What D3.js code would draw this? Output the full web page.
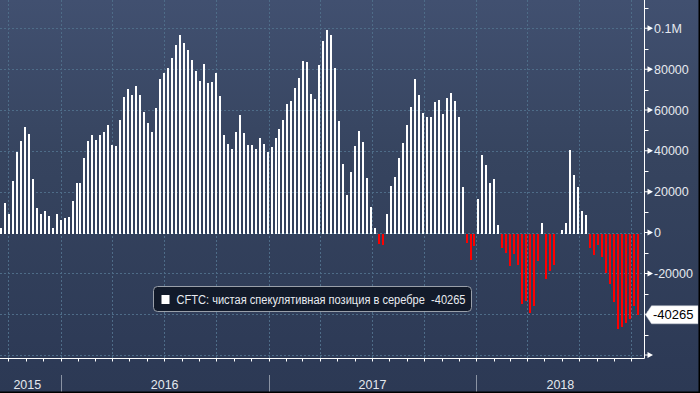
<!DOCTYPE html>
<html>
<head>
<meta charset="utf-8">
<script src="https://cdn.jsdelivr.net/npm/d3@7"></script>
<style>
  html, body { margin: 0; padding: 0; background: #2c3954; }
  svg { display: block; font-family: "Liberation Sans", Arial, sans-serif; }
</style>
</head>
<body>
<div id="chart"></div>
<script>
// CFTC net speculative position in silver, weekly (Friday release dates)
const firstWeek = '2015-09-18';
const positions = [
  2400, 14600, 9300, 25400, 39500, 44900, 51700, 48300, 26300, 12200,
  9300, 10700, 8300, 2000, 9300, 6300, 7300, 7800, 15600, 24400,
  24400, 36600, 44900, 47800, 45400, 47800, 49300, 52700, 42900, 42400,
  55100, 66300, 70300, 67300, 71700, 67300, 59000, 53700, 49300, 61000,
  75100, 78000, 80500, 85400, 91700, 96600, 92700, 89300, 84400, 79000,
  74100, 82400, 73200, 73700, 78000, 66800, 47800, 43400, 41000, 49300,
  57600, 48800, 42900, 42900, 41000, 46300, 43400, 39500, 42000, 46300,
  50700, 55100, 62900, 64400, 70700, 75600, 83900, 83400, 67800, 65400,
  82000, 93700, 99000, 96600, 80500, 54600, 33700, 18500, 29800, 42400,
  49800, 44400, 26800, 12700, 2000, -5400, -6300, 9300, 22900, 27300,
  36600, 43900, 52700, 61500, 75100, 67300, 58500, 56600, 56600, 63900,
  64900, 58000, 65900, 68300, 64400, 56600, 22400, -5300, -13300, -6500,
  16300, 38000, 33200, 24100, 26300, 3600, -7600, -10100, -16400, -10400,
  -15900, -35000, -33500, -39400, -36000, -14000, 4900, -22800, -18900, -15900,
  -500, 1200, 4700, 40600, 28300, 22400, 10700, 8400, -7500, -11000,
  -6100, -12000, -19800, -25000, -33800, -47000, -46100, -44400, -42400, -35800,
  -40265
];
const yTicks = [-60000, -40000, -20000, 0, 20000, 40000, 60000, 80000, 100000];
const yMinorTicks = [-50000, -30000, -10000, 10000, 30000, 50000, 70000, 90000, 110000];
const yTickLabels = ['', '-40000', '-20000', '0', '20000', '40000', '60000', '80000', '0.1M'];
const years = [2015, 2016, 2017, 2018];
const seriesName = 'CFTC: чистая спекулятивная позиция в серебре';
const lastLabel = '-40265';

const width = 700, height = 393;
const axisX = 644.5, axisY = 358.5;

const start = d3.isoParse(firstWeek + 'T00:00:00');
const data = positions.map((v, i) => ({ date: d3.timeWeek.offset(start, i), value: v }));

const x = d3.scaleTime()
  .domain([new Date(2016, 0, 1), new Date(2018, 0, 1)])
  .range([60.6, 476.2]);
const y = d3.scaleLinear()
  .domain([-60000, 100000])
  .range([355.1, 28.3]);

const svg = d3.select('#chart').append('svg')
  .attr('width', width)
  .attr('height', height);

// background gradient
const grad = svg.append('defs').append('linearGradient')
  .attr('id', 'bg').attr('x1', 0).attr('y1', 0).attr('x2', 0).attr('y2', 1);
grad.append('stop').attr('offset', '0%').attr('stop-color', '#415070');
grad.append('stop').attr('offset', '40%').attr('stop-color', '#36445f');
grad.append('stop').attr('offset', '92%').attr('stop-color', '#2d3a56');
grad.append('stop').attr('offset', '100%').attr('stop-color', '#2c3954');
svg.append('rect').attr('width', width).attr('height', height).attr('fill', 'url(#bg)');

// grid
const grid = svg.append('g')
  .attr('stroke', '#4e6c88')
  .attr('stroke-dasharray', '2,2')
  .attr('stroke-width', 1);
grid.selectAll('line.h').data(yTicks).join('line')
  .attr('x1', 0).attr('x2', axisX)
  .attr('y1', d => Math.round(y(d)) + 0.5).attr('y2', d => Math.round(y(d)) + 0.5);
const quarters = d3.timeMonth.every(3).range(new Date(2015, 9, 1), new Date(2018, 9, 2));
grid.selectAll('line.v').data(quarters).join('line')
  .attr('x1', d => Math.round(x(d)) + 0.5).attr('x2', d => Math.round(x(d)) + 0.5)
  .attr('y1', 0).attr('y2', axisY);

// bars, snapped to whole pixels so they stay crisp
const y0 = Math.round(y(0)) + 1;
svg.append('g').selectAll('rect').data(data).join('rect')
  .attr('x', d => Math.round(x(d.date)) - 1)
  .attr('width', 2)
  .attr('y', d => d.value >= 0 ? Math.round(y(d.value)) : y0)
  .attr('height', d => d.value >= 0 ? y0 - Math.round(y(d.value)) : Math.round(y(d.value)) - y0)
  .attr('fill', d => d.value >= 0 ? '#ffffff' : '#ff0000')
  .attr('shape-rendering', 'crispEdges');

// bottom axis
svg.append('line')
  .attr('x1', 0).attr('x2', axisX).attr('y1', axisY).attr('y2', axisY)
  .attr('stroke', '#fff');
const months = d3.timeMonth.range(new Date(2015, 9, 1), new Date(2018, 9, 2));
svg.append('g').selectAll('line').data(months).join('line')
  .attr('x1', d => Math.round(x(d)) + 0.5).attr('x2', d => Math.round(x(d)) + 0.5)
  .attr('y1', axisY).attr('y2', axisY + 3)
  .attr('stroke', '#fff');

// year bands
const yearStarts = years.slice(1).map(yr => new Date(yr, 0, 1));
svg.append('g').selectAll('line').data(yearStarts).join('line')
  .attr('x1', d => Math.round(x(d)) + 0.5).attr('x2', d => Math.round(x(d)) + 0.5)
  .attr('y1', 375).attr('y2', 392)
  .attr('stroke', '#8a93a3');
svg.append('g').selectAll('text').data(years).join('text')
  .attr('x', yr => {
    const a = Math.max(0, x(new Date(yr, 0, 1)));
    const b = Math.min(axisX, x(new Date(yr + 1, 0, 1)));
    return (a + b) / 2 - (yr === years[0] ? 3 : 0);
  })
  .attr('y', 388.5)
  .attr('text-anchor', 'middle')
  .attr('font-size', 12.5)
  .attr('fill', '#e4e8ee')
  .text(d => d);

// right axis
svg.append('line')
  .attr('x1', axisX).attr('x2', axisX).attr('y1', 0).attr('y2', axisY)
  .attr('stroke', '#fff');
svg.append('g').selectAll('line').data(yMinorTicks).join('line')
  .attr('x1', axisX).attr('x2', axisX + 4)
  .attr('y1', d => Math.round(y(d)) + 0.5).attr('y2', d => Math.round(y(d)) + 0.5)
  .attr('stroke', '#fff');
svg.append('g').selectAll('path').data(yTicks).join('path')
  .attr('d', d => {
    const t = y(d);
    return `M${axisX},${t - 0.5}L${axisX + 3},${t - 0.5}L${axisX + 3},${t - 3}L${axisX + 8.5},${t}L${axisX + 3},${t + 3}L${axisX + 3},${t + 0.5}L${axisX},${t + 0.5}Z`;
  })
  .attr('fill', '#fff');
svg.append('g').selectAll('text').data(yTicks).join('text')
  .attr('x', 654)
  .attr('y', d => y(d))
  .attr('dy', '0.36em')
  .attr('font-size', 12.5)
  .attr('fill', '#e6e9ef')
  .text((d, i) => yTickLabels[i]);

// last value label
const last = data[data.length - 1];
const ly = y(last.value);
svg.append('path')
  .attr('d', `M${axisX + 1},${ly}L${axisX + 7},${ly - 9}L698,${ly - 9}L698,${ly + 9}L${axisX + 7},${ly + 9}Z`)
  .attr('fill', '#fff')
  .attr('stroke', '#c8ccd4')
  .attr('stroke-width', 0.5);
svg.append('text')
  .attr('x', 653)
  .attr('y', ly)
  .attr('dy', '0.36em')
  .attr('font-size', 13)
  .attr('fill', '#000')
  .text(lastLabel);

// legend
const lg = svg.append('g').attr('transform', 'translate(153.5,286.5)');
lg.append('rect')
  .attr('width', 318).attr('height', 25).attr('rx', 4)
  .attr('fill', '#121a2a')
  .attr('stroke', '#9aa0aa');
lg.append('rect')
  .attr('x', 8).attr('y', 8.5).attr('width', 8).attr('height', 9)
  .attr('fill', '#fff');
lg.append('text')
  .attr('x', 23).attr('y', 17.5)
  .attr('font-size', 12)
  .attr('fill', '#e8ebf0')
  .attr('textLength', 289)
  .attr('lengthAdjust', 'spacingAndGlyphs')
  .style('white-space', 'pre')
  .text(`${seriesName}  ${String(last.value)}`);

// frame edges
svg.append('rect').attr('x', 0).attr('y', 391.5).attr('width', width).attr('height', 2).attr('fill', '#000');
svg.append('rect').attr('x', 698.5).attr('y', 0).attr('width', 2).attr('height', height).attr('fill', '#000');
</script>
</body>
</html>
